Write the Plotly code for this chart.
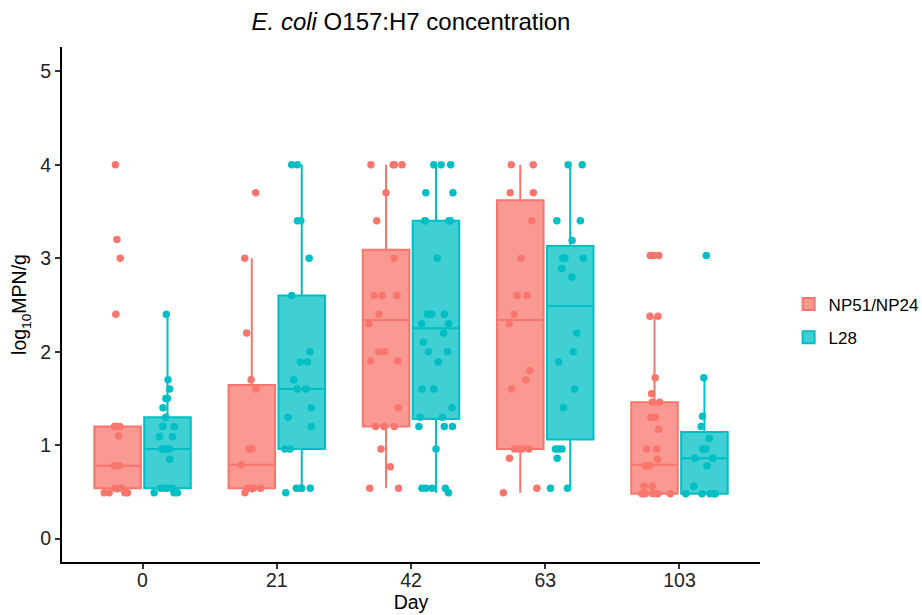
import plotly.graph_objects as go

days = ["0", "21", "42", "63", "103"]

np_d0 = [4.0, 3.2, 3.0, 2.4, 1.2, 1.2, 1.2, 1.1, 0.78, 0.78, 0.78, 0.54, 0.54, 0.54, 0.49, 0.49, 0.49, 0.49]
np_d21 = [3.7, 3.0, 2.2, 1.7, 1.6, 0.96, 0.96, 0.79, 0.54, 0.54, 0.54, 0.54, 0.49]
np_d42 = [4.0, 4.0, 4.0, 4.0, 3.7, 3.4, 3.0, 2.6, 2.6, 2.6, 2.4, 2.3, 2.0, 2.0, 1.9, 1.9, 1.4, 1.2, 1.2, 1.2, 0.96, 0.77, 0.54, 0.54]
np_d63 = [4.0, 4.0, 3.7, 3.7, 3.4, 3.0, 2.6, 2.6, 2.4, 2.3, 1.8, 1.7, 1.6, 0.96, 0.96, 0.96, 0.96, 0.86, 0.54, 0.49]
np_d103 = [3.03, 3.03, 3.03, 2.38, 2.38, 1.72, 1.55, 1.46, 1.46, 1.3, 1.3, 1.17, 0.96, 0.96, 0.85, 0.78, 0.78, 0.78, 0.78, 0.56, 0.56, 0.48, 0.48, 0.48, 0.48, 0.48]

l28_d0 = [2.4, 1.7, 1.6, 1.5, 1.5, 1.4, 1.3, 1.2, 1.2, 1.09, 1.09, 0.96, 0.96, 0.96, 0.96, 0.85, 0.54, 0.54, 0.54, 0.54, 0.49, 0.49, 0.49]
l28_d21 = [4.0, 4.0, 3.4, 3.4, 3.0, 2.6, 2.0, 1.89, 1.89, 1.7, 1.6, 1.6, 1.4, 1.3, 1.2, 0.96, 0.96, 0.54, 0.54, 0.54, 0.54, 0.49]
l28_d42 = [4.0, 4.0, 4.0, 3.7, 3.7, 3.4, 3.4, 3.4, 3.4, 3.0, 2.4, 2.4, 2.4, 2.3, 2.3, 2.2, 2.1, 2.0, 2.0, 1.89, 1.6, 1.6, 1.4, 1.3, 1.3, 1.2, 1.2, 1.2, 0.96, 0.54, 0.54, 0.54, 0.54, 0.49]
l28_d63 = [4.0, 4.0, 3.4, 3.4, 3.19, 3.0, 3.0, 3.0, 2.89, 2.8, 2.2, 2.0, 1.89, 1.6, 1.4, 0.96, 0.96, 0.96, 0.86, 0.54, 0.54]
l28_d103 = [3.03, 1.72, 1.31, 1.2, 1.07, 0.96, 0.96, 0.86, 0.86, 0.78, 0.56, 0.48, 0.48, 0.48, 0.48, 0.48]

# box statistics
np_q1 = [0.54, 0.54, 1.20, 0.96, 0.48]
np_median = [0.78, 0.79, 2.34, 2.34, 0.79]
np_q3 = [1.20, 1.645, 3.09, 3.62, 1.46]
np_lower = [0.49, 0.49, 0.54, 0.49, 0.48]
np_upper = [1.20, 3.0, 4.0, 4.0, 2.37]

l28_q1 = [0.54, 0.96, 1.28, 1.06, 0.48]
l28_median = [0.96, 1.60, 2.25, 2.49, 0.86]
l28_q3 = [1.30, 2.60, 3.40, 3.13, 1.14]
l28_lower = [0.54, 0.54, 0.49, 0.54, 0.48]
l28_upper = [2.39, 4.0, 4.0, 4.0, 1.72]

series = [
    dict(name="NP51/NP24", key="np", color="#F8766D", fill="rgba(248,118,109,0.75)",
         points=[np_d0, np_d21, np_d42, np_d63, np_d103],
         q1=np_q1, med=np_median, q3=np_q3, lf=np_lower, uf=np_upper),
    dict(name="L28", key="l28", color="#00BFC4", fill="rgba(0,191,196,0.75)",
         points=[l28_d0, l28_d21, l28_d42, l28_d63, l28_d103],
         q1=l28_q1, med=l28_median, q3=l28_q3, lf=l28_lower, uf=l28_upper),
]

fig = go.Figure()

for s in series:
    fig.add_trace(go.Box(
        name=s["name"], x=days, q1=s["q1"], median=s["med"], q3=s["q3"],
        lowerfence=s["lf"], upperfence=s["uf"],
        boxpoints=False, offsetgroup=s["key"], legendgroup=s["key"],
        fillcolor=s["fill"], line=dict(color=s["color"], width=2),
        whiskerwidth=0, hoverinfo="skip",
    ))

for s in series:
    xs, ys = [], []
    for d, vals in zip(days, s["points"]):
        xs += [d] * len(vals)
        ys += vals
    fig.add_trace(go.Box(
        name=s["name"], x=xs, y=ys, boxpoints="all", jitter=0.9, pointpos=0,
        offsetgroup=s["key"], legendgroup=s["key"], showlegend=False,
        fillcolor="rgba(0,0,0,0)", line=dict(color="rgba(0,0,0,0)", width=0),
        marker=dict(color=s["color"], size=7.5, opacity=1),
        whiskerwidth=0,
    ))

fig.update_layout(
    width=922, height=615,
    paper_bgcolor="white", plot_bgcolor="white",
    margin=dict(l=62, r=162, t=47, b=53, autoexpand=False),
    boxmode="group", boxgap=0.256, boxgroupgap=0.068,
    font=dict(family="Liberation Sans, Arial, sans-serif", color="#111111"),
    title=dict(text="<i>E. coli</i> O157:H7 concentration", x=0.4458, xanchor="center",
               y=1 - 22 / 615, yanchor="middle", font=dict(size=24, color="black")),
    legend=dict(x=1.041, xanchor="left", y=0.468, yanchor="middle",
                font=dict(size=17, color="black"), traceorder="grouped",
                tracegroupgap=8, bgcolor="rgba(0,0,0,0)"),
    xaxis=dict(type="category", categoryorder="array", categoryarray=days,
               range=[-0.6, 4.6], showline=True, linecolor="black", linewidth=2,
               ticks="outside", ticklen=5, tickwidth=1.5, tickcolor="#333333",
               ticklabelstandoff=-5,
               tickfont=dict(size=19.5, color="#222222"), showgrid=False, zeroline=False,
               automargin=False,
               title=dict(text="Day", font=dict(size=19.5, color="black"), standoff=0)),
    yaxis=dict(range=[-0.25, 5.26], tickvals=[0, 1, 2, 3, 4, 5],
               showline=True, linecolor="black", linewidth=2,
               ticks="outside", ticklen=5, tickwidth=1.5, tickcolor="#333333",
               tickfont=dict(size=19.5, color="#222222"), showgrid=False, zeroline=False,
               automargin=False,
               title=dict(text="log<sub>10</sub>MPN/g", font=dict(size=19.5, color="black"), standoff=8)),
)

fig.write_html("out.html")
